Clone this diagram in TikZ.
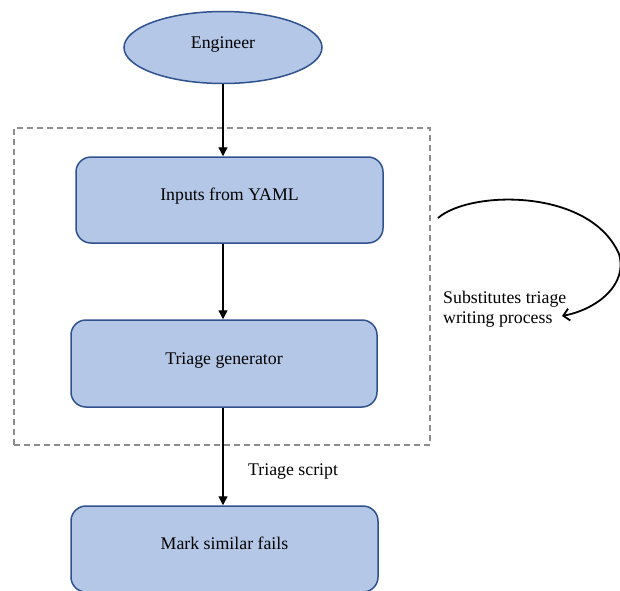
\documentclass[tikz,border=0pt]{standalone}
\usepackage{fontspec}
\setmainfont{Liberation Serif}
\usetikzlibrary{shapes.geometric,arrows.meta}
\definecolor{boxfill}{HTML}{B4C7E7}
\definecolor{boxline}{HTML}{2F528F}
\definecolor{dashgray}{HTML}{8C8C8C}
\begin{document}
\begin{tikzpicture}[x=1pt,y=-1pt,
  every node/.style={font=\fontsize{17.8}{20}\selectfont},
  shapebox/.style={draw=boxline, line width=1.5pt, fill=boxfill, inner sep=0pt, text height=12pt, text depth=11pt},
  stepbox/.style={shapebox, rounded corners=15pt, minimum width=306pt, minimum height=86pt},
  arr/.style={-{Triangle[length=9pt,width=9pt]}, line width=1.4pt},
  curvearr/.style={-{Straight Barb[length=6pt,width=12pt]}, line width=1.8pt}]
\useasboundingbox (0,0) rectangle (620,590);
% dashed group
\node[draw=dashgray, line width=1.3pt, dash pattern=on 6pt off 4pt, minimum width=416pt, minimum height=317pt, inner sep=0pt] (grp) at (222,286.5) {};
% nodes
\node[shapebox, ellipse, minimum width=198pt, minimum height=72pt] (eng) at (223,47.5) {Engineer};
\node[stepbox, minimum width=307pt] (inp) at (229.5,200) {Inputs from YAML};
\node[stepbox, minimum height=87pt] (gen) at (224,363.5) {Triage generator};
\node[stepbox, minimum width=307pt] (mark) at (224.5,549) {Mark similar fails};
% connectors
\draw[arr] (eng.south) -- (eng.south |- inp.north);
\draw[arr] (eng.south |- inp.south) -- (eng.south |- gen.north);
\draw[arr] (eng.south |- gen.south) -- (eng.south |- mark.north);
\node[anchor=west, inner sep=0pt] (tsl) at (248,472) {Triage script};
% curved arrow
\coordinate (cs) at (438,218);
\coordinate (ce) at (562,316);
\draw[curvearr] (cs) .. controls (470,190) and (590,188) .. (619,254) .. controls (628,284) and (598,309) .. (ce);
\node[anchor=north west, inner sep=0pt, align=left] (sub) at (443,291) {Substitutes triage\\writing process};
\end{tikzpicture}
\end{document}
